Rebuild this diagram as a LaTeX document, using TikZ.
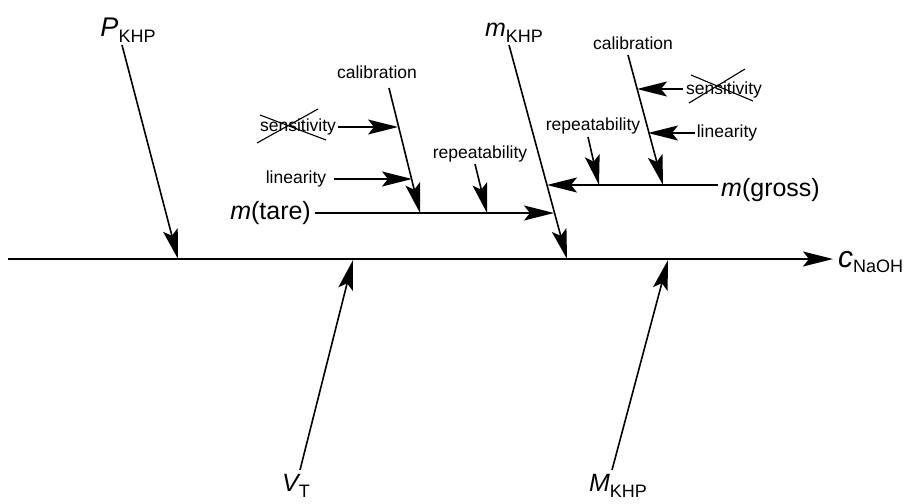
\documentclass[tikz,border=0pt]{standalone}
\usepackage{fontspec}
\setmainfont{Liberation Sans}
\usetikzlibrary{arrows.meta}
\tikzset{
  ar/.style={-{Stealth[length=30pt,width=15pt,inset=6pt]}},
  mainln/.style={line width=2pt},
  br/.style={line width=1.6pt},
  xline/.style={line width=1.1pt},
  sm/.style={font=\fontsize{17.5}{20}\selectfont, inner sep=0pt},
  big/.style={font=\fontsize{25}{30}\selectfont, inner sep=0pt},
}
\newcommand\subl[2]{{\itshape #1}\raisebox{-0.22em}{\fontsize{18}{20}\selectfont #2}}
\begin{document}
\begin{tikzpicture}[x=1pt,y=-1pt]
\useasboundingbox (0,0) rectangle (917,503);
% main spine
\coordinate (L) at (8,259);
\coordinate (R) at (833,259);
\draw[mainln,ar] (L) -- (R);
\node[big,anchor=west] (cN) at (838,262) {{\fontsize{30}{34}\selectfont\itshape c}\raisebox{-0.22em}{\fontsize{18}{20}\selectfont NaOH}};

% P_KHP
\node[big] (pk) at (128,30) {{\fontsize{27}{30}\selectfont\itshape P}\raisebox{-0.22em}{\fontsize{18}{20}\selectfont KHP}};
\coordinate (pk0) at (122,45);
\coordinate (pk1) at (178,259);
\draw[br,ar] (pk0) -- (pk1);

% m_KHP
\node[big] (mk) at (514,33) {\subl{m}{KHP}};
\coordinate (mk0) at (509,45);
\coordinate (mk1) at (567,259);
\draw[br,ar] (mk0) -- (mk1);

% V_T
\node[big] (vt) at (296,486) {\subl{V}{T}};
\coordinate (vt0) at (300,470);
\coordinate (vt1) at (353,260);
\draw[br,ar] (vt0) -- (vt1);

% M_KHP
\node[big] (Mk) at (618,486) {\subl{M}{KHP}};
\coordinate (Mk0) at (612,470);
\coordinate (Mk1) at (668,260);
\draw[br,ar] (Mk0) -- (Mk1);

% m(tare) branch
\node[big,anchor=east] (mt) at (311,213) {{\itshape m}(tare)};
\coordinate (mt0) at (315,213);
\coordinate (mt1) at (554,213);
\draw[br,ar] (mt0) -- (mt1);

\node[sm] (calL) at (377,72) {calibration};
\coordinate (calL0) at (389,88);
\coordinate (calL1) at (420,213);
\draw[br,ar] (calL0) -- (calL1);

\node[sm] (senL) at (298,127) {sensitivity};
\coordinate (senL0) at (338,127);
\coordinate (senL1) at (398,127);
\draw[br,ar] (senL0) -- (senL1);
\coordinate (xL1) at (257,143);
\coordinate (xL2) at (318,109);
\coordinate (xL3) at (260,115);
\coordinate (xL4) at (326,140);
\draw[xline] (xL1) -- (xL2);
\draw[xline] (xL3) -- (xL4);

\node[sm] (linL) at (296,179) {linearity};
\coordinate (linL0) at (334,179);
\coordinate (linL1) at (412,179);
\draw[br,ar] (linL0) -- (linL1);

\node[sm] (repL) at (480,154) {repeatability};
\coordinate (repL0) at (475,164);
\coordinate (repL1) at (487,213);
\draw[br,ar] (repL0) -- (repL1);

% m(gross) branch
\node[big,anchor=west] (mg) at (721,190) {{\itshape m}(gross)};
\coordinate (mg0) at (718,185);
\coordinate (mg1) at (547,185);
\draw[br,ar] (mg0) -- (mg1);

\node[sm] (calR) at (633,43) {calibration};
\coordinate (calR0) at (628,55);
\coordinate (calR1) at (663,185);
\draw[br,ar] (calR0) -- (calR1);

\node[sm] (senR) at (724,90) {sensitivity};
\coordinate (senR0) at (683,89);
\coordinate (senR1) at (637,89);
\draw[br,ar] (senR0) -- (senR1);
\coordinate (xR1) at (689,103);
\coordinate (xR2) at (745,69);
\coordinate (xR3) at (691,75);
\coordinate (xR4) at (753,101);
\draw[xline] (xR1) -- (xR2);
\draw[xline] (xR3) -- (xR4);

\node[sm] (linR) at (727,133) {linearity};
\coordinate (linR0) at (695,133);
\coordinate (linR1) at (648,133);
\draw[br,ar] (linR0) -- (linR1);

\node[sm] (repR) at (593,126) {repeatability};
\coordinate (repR0) at (588,137);
\coordinate (repR1) at (599,185);
\draw[br,ar] (repR0) -- (repR1);
\end{tikzpicture}
\end{document}
